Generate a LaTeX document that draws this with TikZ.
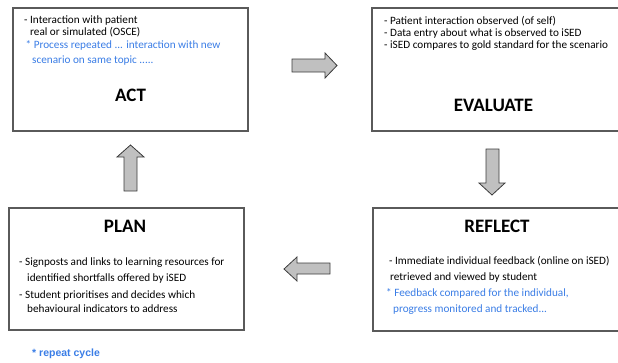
\documentclass[tikz,border=0pt]{standalone}
\usepackage{fontspec}
\setmainfont{Carlito}
\newfontfamily\arialfont{Liberation Sans}
\definecolor{txtblue}{RGB}{58,125,230}
\definecolor{boxline}{RGB}{90,90,90}
\definecolor{arrowfill}{RGB}{192,192,192}
\definecolor{arrowline}{RGB}{60,60,60}
\tikzset{
  box/.style={draw=boxline, line width=1.2pt, fill=white},
  txt/.style={anchor=mid west, inner sep=0pt, font=\fontsize{11.2}{13}\selectfont},
  bluetxt/.style={txt, text=txtblue},
  title/.style={anchor=base, inner sep=0pt, font=\fontsize{19}{22}\selectfont\bfseries},
  blockarrow/.style={draw=arrowline, fill=arrowfill, line width=0.8pt, line join=miter}
}
\begin{document}
\begin{tikzpicture}[x=1pt,y=-1pt]
\useasboundingbox (0,0) rectangle (618,362);
\clip (0,0) rectangle (618,362);
% boxes
\draw[box] (13,8) rectangle (248,131);
\draw[box] (372,8) rectangle (625,131);
\draw[box] (9,208) rectangle (244,330);
\draw[box] (373,208) rectangle (625,331);
% ACT
\node[txt] (a1) at (24,20.7) {- Interaction with patient};
\node[txt] (a2) at (30,33.3) {real or simulated (OSCE)};
\node[bluetxt] (a3) at (25.5,46.5) {* Process repeated ... interaction with new};
\node[bluetxt] (a4) at (32,61) {scenario on same topic .....};
\node[title] (act) at (130.5,101.5) {ACT};
% EVALUATE
\node[txt] (e1) at (384,21.7) {- Patient interaction observed (of self)};
\node[txt] (e2) at (384,33.8) {- Data entry about what is observed to iSED};
\node[txt] (e3) at (384,46) {- iSED compares to gold standard for the scenario};
\node[title] (evaluate) at (493.5,111) {EVALUATE};
% PLAN
\node[title] (plan) at (125,232.5) {PLAN};
\node[txt] (p1) at (19,262.7) {- Signposts and links to learning resources for};
\node[txt] (p2) at (27,279.3) {identified shortfalls offered by iSED};
\node[txt] (p3) at (19,296) {- Student prioritises and decides which};
\node[txt] (p4) at (27,310) {behavioural indicators to address};
% REFLECT
\node[title] (reflect) at (497,232) {REFLECT};
\node[txt] (r1) at (389,261.7) {- Immediate individual feedback (online on iSED)};
\node[txt] (r2) at (390,277.7) {retrieved and viewed by student};
\node[bluetxt] (r3) at (386,294) {* Feedback compared for the individual,};
\node[bluetxt] (r4) at (393,310) {progress monitored and tracked...};
% repeat cycle
\node[anchor=mid west, inner sep=0pt, text=txtblue, font=\arialfont\fontsize{10.5}{12}\selectfont\bfseries] (rep) at (32,354.5) {* repeat cycle};
% block arrows
\draw[blockarrow] (292,59) -- (325,59) -- (325,53) -- (337,65.5) -- (325,78) -- (325,72) -- (292,72) -- cycle;
\draw[blockarrow] (499,149) -- (499,183) -- (505,183) -- (492,195) -- (479,183) -- (486,183) -- (486,149) -- cycle;
\draw[blockarrow] (330,263) -- (297,263) -- (297,257) -- (284,269) -- (297,281) -- (297,274) -- (330,274) -- cycle;
\draw[blockarrow] (124,191) -- (124,157) -- (117,157) -- (130.5,145) -- (144,157) -- (137,157) -- (137,191) -- cycle;
\end{tikzpicture}
\end{document}
